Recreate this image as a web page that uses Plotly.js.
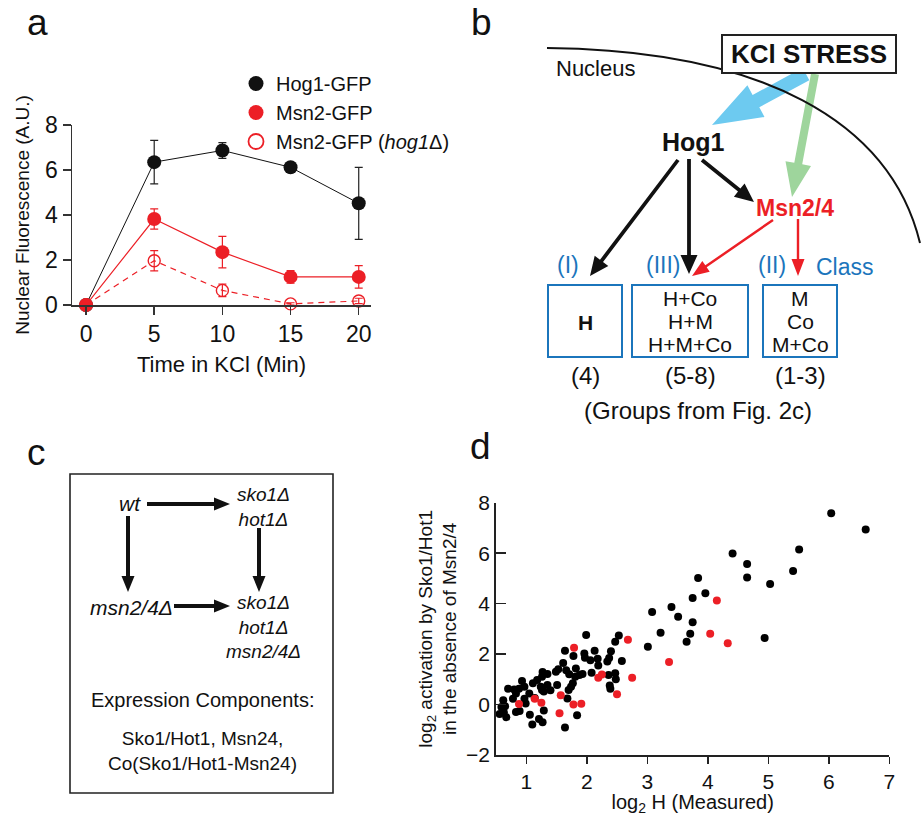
<!DOCTYPE html>
<html>
<head>
<meta charset="utf-8">
<script src="https://cdn.plot.ly/plotly-3.0.1.min.js"></script>
<style>html,body{margin:0;padding:0;background:#fff;}#chart{width:922px;height:816px;}</style>
</head>
<body>
<div id="chart"></div>
<script>
// ---------- Panel a data ----------
const timeMin = [0, 5, 10, 15, 20];
const hog1Gfp = [0, 6.35, 6.87, 6.12, 4.52];
const hog1GfpErr = [0, 0.97, 0.35, 0.17, 1.6];
const msn2Gfp = [0, 3.82, 2.35, 1.25, 1.25];
const msn2GfpErr = [0, 0.45, 0.7, 0.28, 0.5];
const msn2Hog1Del = [0, 1.97, 0.65, 0.05, 0.18];
const msn2Hog1DelErr = [0, 0.45, 0.28, 0.05, 0.12];
const seriesNames = ['Hog1-GFP', 'Msn2-GFP', 'Msn2-GFP (<i>hog1</i>\u0394)'];
const timeTicks = [0, 5, 10, 15, 20];
const fluorTicks = [0, 2, 4, 6, 8];

// ---------- Panel d data ----------
const hBlack = [6.04,6.61,4.41,4.65,4.65,5.51,5.41,5.03,3.84,3.96,3.75,3.40,3.08,3.51,3.75,3.22,3.71,3.65,3.01,4.94,
  1.99,2.53,2.47,2.13,1.64,1.78,1.96,1.97,2.06,2.18,2.19,2.40,2.37,2.34,2.58,1.61,1.53,1.49,1.66,1.71,1.82,1.81,1.88,1.93,2.08,
  1.77,1.74,1.70,1.68,1.84,1.64,1.51,1.40,1.35,2.47,2.36,2.48,2.38,2.39,1.35,1.27,1.26,1.18,1.11,1.24,1.26,1.29,
  0.93,0.97,0.88,0.70,0.80,0.83,0.78,0.97,0.99,0.62,0.59,0.65,0.56,0.67,0.63,0.83,0.89,1.06,1.10,1.21,1.27,1.29,1.05,1.14];
const actBlack = [7.58,6.94,5.99,5.57,5.04,6.15,5.29,4.78,5.02,4.41,4.22,3.87,3.67,3.48,3.26,2.85,2.81,2.49,2.29,2.64,
  2.76,2.74,2.49,2.13,2.13,1.92,2.02,1.85,1.76,1.81,1.55,2.11,1.84,1.71,1.73,1.65,1.40,1.30,1.36,1.20,1.43,1.10,1.17,1.21,1.26,
  0.84,0.71,0.58,0.24,-0.42,-0.91,0.77,0.57,0.77,1.24,1.17,1.00,0.75,0.63,1.21,1.29,1.10,0.97,0.84,0.71,0.58,0.52,
  0.93,0.71,0.63,0.63,0.60,0.44,0.23,0.23,0.04,0.17,-0.10,-0.07,-0.37,-0.50,-0.32,-0.30,-0.26,-0.40,-0.79,-0.57,-0.70,-0.24,0.44,0.26];
const hRed = [4.15,4.04,4.33,3.36,2.68,2.75,2.50,2.19,2.25,1.79,1.78,1.91,1.57,1.55,1.25,1.14,0.88];
const actRed = [4.12,2.81,2.43,1.69,2.57,1.06,0.41,1.06,1.19,2.25,0.00,0.03,0.37,-0.35,0.07,0.23,0.02];
const hTicks = [1, 2, 3, 4, 5, 6, 7];
const actTicks = [-2, 0, 2, 4, 6, 8];

const RED = '#ec1f26';
const BLUE = '#1b75bc';
const FONT = 'Arial, "Liberation Sans", Helvetica, sans-serif';

const traces = [
  {x: timeMin, y: hog1Gfp, type: 'scatter', mode: 'lines+markers', xaxis: 'x', yaxis: 'y', cliponaxis: false, showlegend: false,
   line: {color: '#111', width: 1}, marker: {color: '#111', size: 14},
   error_y: {type: 'data', array: hog1GfpErr, color: '#222', thickness: 1.2, width: 4}},
  {x: timeMin, y: msn2Gfp, type: 'scatter', mode: 'lines+markers', xaxis: 'x', yaxis: 'y', cliponaxis: false, showlegend: false,
   line: {color: RED, width: 1.2}, marker: {color: RED, size: 14},
   error_y: {type: 'data', array: msn2GfpErr, color: RED, thickness: 1.2, width: 4}},
  {x: timeMin, y: msn2Hog1Del, type: 'scatter', mode: 'lines+markers', xaxis: 'x', yaxis: 'y', cliponaxis: false, showlegend: false,
   line: {color: RED, width: 1.2, dash: '6px,5px'}, marker: {color: RED, size: 12, symbol: 'circle-open', line: {color: RED, width: 1.4}},
   error_y: {type: 'data', array: msn2Hog1DelErr, color: RED, thickness: 1.2, width: 4}},
  // legend entries (markers only, like the reference legend)
  {x: [null], y: [null], type: 'scatter', mode: 'markers', xaxis: 'x', yaxis: 'y', name: seriesNames[0], marker: {color: '#111', size: 15}},
  {x: [null], y: [null], type: 'scatter', mode: 'markers', xaxis: 'x', yaxis: 'y', name: seriesNames[1], marker: {color: RED, size: 15}},
  {x: [null], y: [null], type: 'scatter', mode: 'markers', xaxis: 'x', yaxis: 'y', name: seriesNames[2], marker: {color: RED, size: 15, symbol: 'circle-open', line: {color: RED, width: 1.8}}},
  // panel d
  {x: hBlack, y: actBlack, type: 'scatter', mode: 'markers', xaxis: 'x2', yaxis: 'y2', showlegend: false, cliponaxis: false,
   marker: {color: '#000', size: 8}},
  {x: hRed, y: actRed, type: 'scatter', mode: 'markers', xaxis: 'x2', yaxis: 'y2', showlegend: false, cliponaxis: false,
   marker: {color: RED, size: 8}},
  // overlay canvas for diagrams (pixel coordinates)
  {x: [0], y: [0], type: 'scatter', mode: 'markers', xaxis: 'x3', yaxis: 'y3', showlegend: false, hoverinfo: 'skip', marker: {opacity: 0}}
];

const W = 922, H = 816;
function px(v) { return v / W; }
function py(v) { return 1 - v / H; }

// arrow polygon in pixel coordinates
function arrowPath(x0, y0, x1, y1, sw, hl, hw) {
  const dx = x1 - x0, dy = y1 - y0, L = Math.hypot(dx, dy);
  const ux = dx / L, uy = dy / L, nx = -uy, ny = ux;
  const bx = x1 - ux * hl, by = y1 - uy * hl;
  const p = [
    [x0 + nx * sw / 2, y0 + ny * sw / 2],
    [bx + nx * sw / 2, by + ny * sw / 2],
    [bx + nx * hw / 2, by + ny * hw / 2],
    [x1, y1],
    [bx - nx * hw / 2, by - ny * hw / 2],
    [bx - nx * sw / 2, by - ny * sw / 2],
    [x0 - nx * sw / 2, y0 - ny * sw / 2]
  ];
  return 'M' + p.map(q => q[0].toFixed(1) + ',' + q[1].toFixed(1)).join('L') + 'Z';
}
function arrow(x0, y0, x1, y1, sw, hl, hw, color) {
  return {type: 'path', xref: 'x3', yref: 'y3', path: arrowPath(x0, y0, x1, y1, sw, hl, hw), fillcolor: color, line: {width: 0}, layer: 'above'};
}
function rect(x0, y0, x1, y1, color, w, fill) {
  return {type: 'rect', xref: 'x3', yref: 'y3', x0: x0, y0: y0, x1: x1, y1: y1, line: {color: color, width: w}, fillcolor: fill || 'rgba(0,0,0,0)', layer: 'above'};
}
function txt(x, y, text, size, color, extra) {
  return Object.assign({xref: 'x3', yref: 'y3', x: x, y: y, text: text, showarrow: false, xanchor: 'center', yanchor: 'middle',
    font: {family: FONT, size: size, color: color || '#111'}}, extra || {});
}

const shapes = [
  // panel b
  arrow(806, 74, 712, 125, 14, 50, 36, '#6dcaf0'),
  arrow(815, 74, 792, 197, 8, 34, 26, '#9ed59c'),
  {type: 'path', xref: 'x3', yref: 'y3', path: 'M547,48 C760,50 890,120 920,243', line: {color: '#111', width: 2}, layer: 'above'},
  rect(722, 35, 896, 73, '#222', 2, '#fff'),
  arrow(678, 160, 590, 276, 3.8, 19, 17, '#111'),
  arrow(689, 159, 689, 274, 3.8, 19, 17, '#111'),
  arrow(702, 160, 754, 202, 3.8, 19, 17, '#111'),
  arrow(773, 220, 692, 276, 2.4, 17, 13, RED),
  arrow(798, 219, 798, 276, 2.4, 17, 13, RED),
  rect(548, 285, 622, 357, BLUE, 2),
  rect(632, 285, 748, 357, BLUE, 2),
  rect(763, 285, 837, 357, BLUE, 2),
  // panel c
  rect(70, 474, 333, 793, '#222', 1.6),
  arrow(147, 504, 230, 504, 4, 16, 13, '#111'),
  arrow(128, 516, 128, 592, 4, 16, 13, '#111'),
  arrow(259, 528, 259, 592, 4, 16, 13, '#111'),
  arrow(174, 606, 230, 606, 4, 16, 13, '#111')
];

const annotations = [
  txt(37, 22, 'a', 37, '#111'),
  txt(481, 22, 'b', 37, '#111'),
  txt(36, 452, 'c', 37, '#111'),
  txt(480, 446, 'd', 37, '#111'),
  // panel b texts
  txt(595, 68, 'Nucleus', 22),
  txt(809, 54, '<b>KCl STRESS</b>', 26),
  txt(693, 142, '<b>Hog1</b>', 25),
  txt(795, 208, '<b>Msn2/4</b>', 23, RED),
  txt(568, 265, '(I)', 23, BLUE),
  txt(663, 265, '(III)', 23, BLUE),
  txt(772, 265, '(II)', 23, BLUE),
  txt(845, 267, 'Class', 23, BLUE),
  txt(585, 322, '<b>H</b>', 21),
  txt(690, 298, 'H+Co', 21),
  txt(690, 321, 'H+M', 21),
  txt(690, 344, 'H+M+Co', 21),
  txt(800, 298, 'M', 21),
  txt(800, 321, 'Co', 21),
  txt(800, 344, 'M+Co', 21),
  txt(585, 375, '(4)', 24),
  txt(690, 375, '(5-8)', 24),
  txt(800, 375, '(1-3)', 24),
  txt(698, 410, '(Groups from Fig. 2c)', 24),
  // panel c texts
  txt(130, 503, '<i>wt</i>', 21),
  txt(263, 507, '<i>sko1\u0394</i><br><i>hot1\u0394</i>', 19),
  txt(131, 607, '<i>msn2/4\u0394</i>', 21),
  txt(263, 627, '<i>sko1\u0394</i><br><i>hot1\u0394</i><br><i>msn2/4\u0394</i>', 19),
  txt(202, 700, 'Expression Components:', 20),
  txt(202, 751, 'Sko1/Hot1, Msn24,<br>Co(Sko1/Hot1-Msn24)', 19)
];

const layout = {
  width: W, height: H,
  margin: {l: 0, r: 0, t: 0, b: 0},
  paper_bgcolor: '#fff', plot_bgcolor: 'rgba(0,0,0,0)',
  font: {family: FONT, color: '#111'},
  showlegend: true,
  legend: {x: px(236), y: py(64), xanchor: 'left', yanchor: 'top', bgcolor: 'rgba(0,0,0,0)',
    font: {family: FONT, size: 20, color: '#111'}, itemwidth: 30, tracegroupgap: 0},
  xaxis: {domain: [px(72), px(371)], range: [-1.03, 20.9], anchor: 'y', tickvals: timeTicks, ticks: 'outside', ticklen: 8, tickwidth: 1.5,
    tickcolor: '#333', showline: true, linecolor: '#333', linewidth: 1.5, showgrid: false, zeroline: false,
    tickfont: {size: 23, family: FONT}, title: {text: 'Time in KCl (Min)', font: {size: 22, family: FONT}, standoff: 10}, fixedrange: true},
  yaxis: {domain: [py(305), py(125)], range: [0, 8], anchor: 'x', tickvals: fluorTicks, ticks: 'outside', ticklen: 8, tickwidth: 1.5,
    tickcolor: '#333', showline: true, linecolor: '#333', linewidth: 1.5, showgrid: false, zeroline: false,
    tickfont: {size: 23, family: FONT}, title: {text: 'Nuclear Fluorescence (A.U.)', font: {size: 19, family: FONT}, standoff: 10}, fixedrange: true},
  xaxis2: {domain: [px(496), px(889.3)], range: [0.5, 7], anchor: 'y2', tickvals: hTicks, ticks: 'outside', ticklen: 7, tickwidth: 1.5,
    tickcolor: '#222', showline: true, linecolor: '#222', linewidth: 1.8, showgrid: false, zeroline: false,
    tickfont: {size: 21, family: FONT}, title: {text: 'log<sub>2</sub> H (Measured)', font: {size: 20, family: FONT}, standoff: 4}, fixedrange: true},
  yaxis2: {domain: [py(755), py(502.7)], range: [-2, 8], anchor: 'x2', tickvals: actTicks, ticks: 'inside', ticklen: 10, tickwidth: 1.5,
    tickcolor: '#222', showline: true, linecolor: '#222', linewidth: 1.8, showgrid: false, zeroline: false,
    tickfont: {size: 21, family: FONT},
    title: {text: 'log<sub>2</sub> activation by Sko1/Hot1<br>in the absence of Msn2/4', font: {size: 19, family: FONT}, standoff: 4}, fixedrange: true},
  xaxis3: {domain: [0, 1], range: [0, W], anchor: 'y3', visible: false, fixedrange: true},
  yaxis3: {domain: [0, 1], range: [H, 0], anchor: 'x3', visible: false, fixedrange: true},
  shapes: shapes,
  annotations: annotations
};

Plotly.newPlot('chart', traces, layout, {displayModeBar: false, staticPlot: true});
</script>
</body>
</html>
